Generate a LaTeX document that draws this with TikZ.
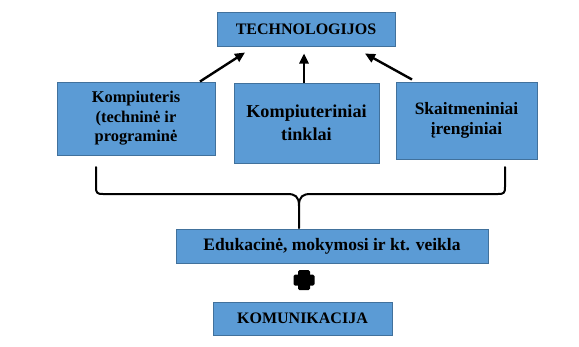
\documentclass[tikz,border=0pt]{standalone}
\usepackage{fontspec}
\setmainfont{Liberation Serif}
\usetikzlibrary{arrows.meta,calc}
\definecolor{boxfill}{HTML}{5B9BD5}
\definecolor{boxline}{HTML}{41719C}
\begin{document}
\begin{tikzpicture}[x=1pt,y=-1pt,
  box/.style={draw=boxline,line width=1pt,fill=boxfill,inner sep=0pt,align=center},
  arr/.style={line width=2.4pt,-{Triangle[length=10pt,width=9pt]}},
  brace/.style={line width=2pt,line join=round,line cap=round}]
\useasboundingbox (0,0) rectangle (579,346);
\node[box,minimum width=178pt,minimum height=34pt,font=\bfseries\fontsize{16}{19}\selectfont] (tech) at (306,29) {TECHNOLOGIJOS};
\node[box,minimum width=158pt,minimum height=73pt,font=\bfseries\fontsize{16.4}{19.5}\selectfont] (k1) at (136,118.5) {Kompiuteris\\(techninė ir\\programinė};
\node[box,minimum width=145pt,minimum height=80pt,font=\bfseries\fontsize{18.2}{23}\selectfont] (k2) at (306.5,123) {Kompiuteriniai\\tinklai};
\node[box,minimum width=141pt,minimum height=77pt,font=\bfseries\fontsize{17.4}{20}\selectfont] (k3) at (466.5,120.5) {Skaitmeniniai\\įrenginiai};
\node[box,minimum width=312pt,minimum height=34pt,font=\bfseries\fontsize{17.5}{21}\selectfont] (edu) at (332,246) {Edukacinė, mokymosi ir kt. veikla};
\node[box,minimum width=179pt,minimum height=33pt,font=\bfseries\fontsize{16}{19}\selectfont] (kom) at (302.5,318.5) {KOMUNIKACIJA};
\draw[arr] ($(k1.north)+(64,0)$) -- ($(tech.south)+(-61,6)$);
\draw[arr] ($(k2.north)+(-2.5,0)$) -- ($(tech.south)+(-2,7)$);
\draw[arr] ($(k3.north)+(-54.5,-2)$) -- ($(tech.south)+(59,7)$);
\coordinate (bl) at (96,167);
\coordinate (br) at (505,167);
\coordinate (bm) at (299,228);
\draw[brace] (bl) -- (96,187) .. controls (96,193) and (97,194) .. (103,194) -- (287,194)
  .. controls (295,194) and (299,196) .. (299,206) -- (bm);
\draw[brace] (br) -- (505,187) .. controls (505,193) and (504,194) .. (498,194) -- (311,194)
  .. controls (303,194) and (299,196) .. (299,206);
\node[fill=black,minimum width=21pt,minimum height=11pt,inner sep=0pt,rounded corners=1.5pt] (plush) at (304,280) {};
\node[fill=black,minimum width=12pt,minimum height=20pt,inner sep=0pt,rounded corners=1.5pt] (plusv) at (304,280) {};
\end{tikzpicture}
\end{document}
